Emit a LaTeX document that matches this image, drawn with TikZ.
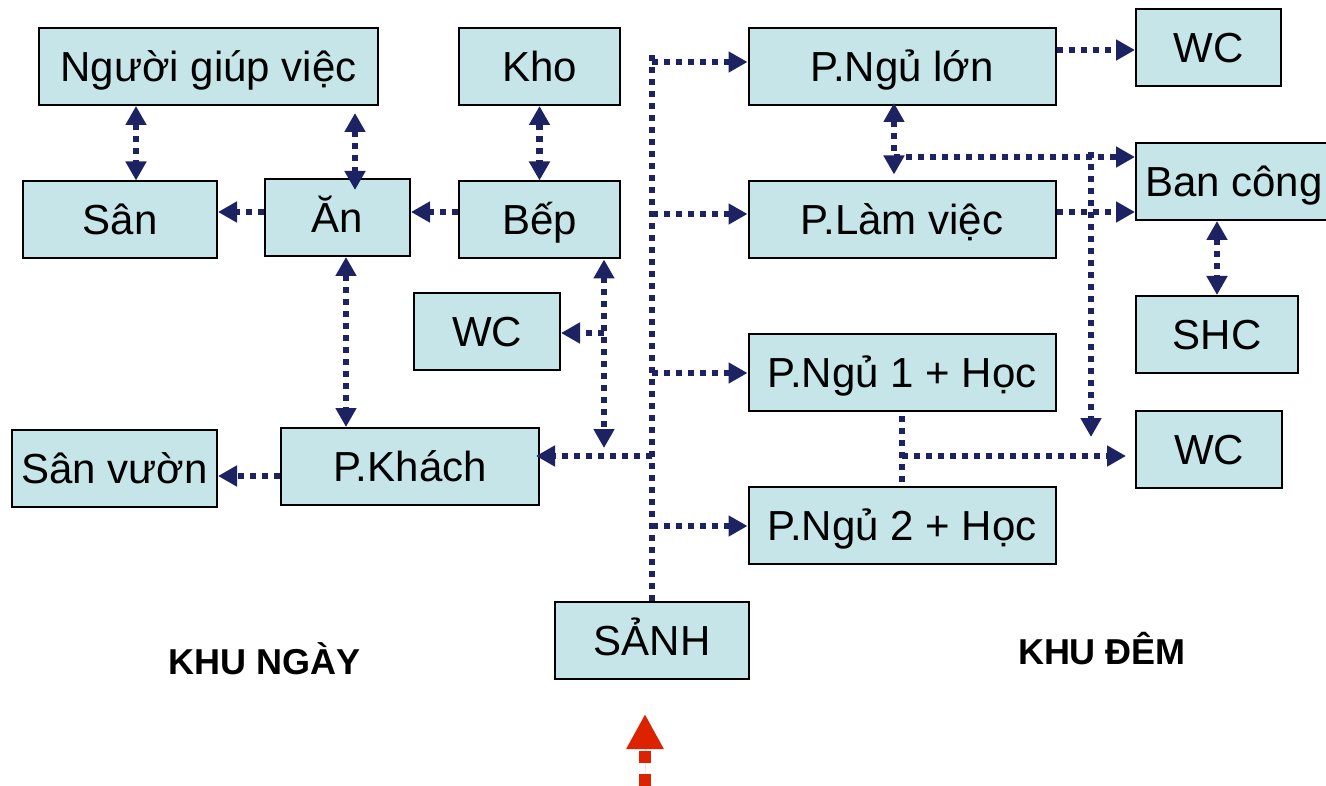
\documentclass[tikz,border=0pt]{standalone}
\usepackage{fontspec}
\setmainfont{Liberation Sans}
\usetikzlibrary{arrows.meta,calc}
\definecolor{boxfill}{RGB}{197,229,232}
\definecolor{navy}{RGB}{28,34,98}
\definecolor{redarrow}{RGB}{221,34,0}
\tikzset{tri/.tip={Triangle[length=19pt,width=20pt]}}
\begin{document}
\begin{tikzpicture}[x=1pt,y=-1pt,
  room/.style={draw=black, line width=2pt, fill=boxfill, minimum height=77pt,
    inner sep=0pt, text height=30pt, text depth=0pt, font=\fontsize{42}{48}\selectfont},
  conn/.style={draw=navy, line width=6.5pt, dash pattern=on 6pt off 6pt},
  lbl/.style={inner sep=0pt, text height=26pt, text depth=0pt, font=\fontsize{36}{40}\selectfont\bfseries}]
\useasboundingbox (0,0) rectangle (1326,786);

% rooms
\node[room, minimum width=339pt] (ngv) at (208.5,66.5) {Người giúp việc};
\node[room, minimum width=161pt] (kho) at (539.5,66.5) {Kho};
\node[room, minimum width=194pt] (san) at (120,220) {Sân};
\node[room, minimum width=145pt] (an) at (337.5,217.5) {Ăn};
\node[room, minimum width=161pt] (bep) at (539.5,220) {Bếp};
\node[room, minimum width=146pt] (wcl) at (487,331.5) {WC};
\node[room, minimum width=205pt] (sanvuon) at (114.5,468.5) {Sân vườn};
\node[room, minimum width=258pt] (pkhach) at (410,466.5) {P.Khách};
\node[room, minimum width=194pt] (sanh) at (652,640.5) {SẢNH};
\node[room, minimum width=307pt] (pnl) at (902,66.5) {P.Ngủ lớn};
\node[room, minimum width=145pt] (wc1) at (1208.5,47.5) {WC};
\node[room, minimum width=196pt] (bancong) at (1234,181.5) {Ban công};
\node[room, minimum width=307pt] (plv) at (902,220) {P.Làm việc};
\node[room, minimum width=162pt] (shc) at (1217,334.5) {SHC};
\node[room, minimum width=307pt] (pn1) at (902,372.5) {P.Ngủ 1 + Học};
\node[room, minimum width=146pt] (wc2) at (1209,449.5) {WC};
\node[room, minimum width=307pt] (pn2) at (902,525.5) {P.Ngủ 2 + Học};

% labels
\node[lbl] (khungay) at (265,661) {KHU NGÀY};
\node[lbl] (khudem) at (1102,651) {KHU ĐÊM};

% track coordinates
\coordinate (tA) at (136,0);
\coordinate (tB) at (355,0);
\coordinate (tD) at (0,212);
\coordinate (tF) at (346,0);
\coordinate (tI) at (0,476);
\coordinate (tP) at (0,50);
\coordinate (tQ) at (894,0);
\coordinate (tS) at (0,212);
\coordinate (tU) at (1217,0);
\coordinate (mtop) at (652,55);
\coordinate (j1) at (652,62);
\coordinate (j2) at (652,214);
\coordinate (j3) at (652,373);
\coordinate (j4) at (652,456);
\coordinate (j5) at (652,526);
\coordinate (k1) at (604,448);
\coordinate (k2) at (604,333);
\coordinate (m1) at (894,157);
\coordinate (m2) at (1091,152);
\coordinate (m3) at (1091,437);
\coordinate (m4) at (902,456);
\coordinate (r0) at (645,786);
\coordinate (r1) at (645,714);

% left side connectors
\draw[conn, tri-tri] (ngv.south -| tA) -- (san.north -| tA);
\draw[conn, tri-tri, shorten <=7pt, shorten >=-12pt] (ngv.south -| tB) -- (an.north -| tB);
\draw[conn, tri-tri] (kho.south) -- (bep.north);
\draw[conn, -tri] (an.west |- tD) -- (san.east |- tD);
\draw[conn, -tri] (bep.west |- tD) -- (an.east |- tD);
\draw[conn, tri-tri] (an.south -| tF) -- (pkhach.north -| tF);
\draw[conn, tri-tri] (bep.south -| k1) -- (k1);
\draw[conn, -tri] (k2) -- (wcl.east |- k2);
\draw[conn, -tri] (pkhach.west |- tI) -- (sanvuon.east |- tI);

% main spine
\draw[conn] (sanh.north) -- (mtop);
\draw[conn, -tri] (j1) -- (pnl.west |- j1);
\draw[conn, -tri] (j2) -- (plv.west |- j2);
\draw[conn, -tri] (j3) -- (pn1.west |- j3);
\draw[conn, -tri, shorten >=-4pt] (j4) -- (pkhach.east |- j4);
\draw[conn, -tri] (j5) -- (pn2.west |- j5);

% right side connectors
\draw[conn, -tri] (pnl.east |- tP) -- (wc1.west |- tP);
\draw[conn, tri-tri, shorten <=-3pt, shorten >=6pt] (pnl.south -| tQ) -- (plv.north -| tQ);
\draw[conn, -tri] (m1) -- (bancong.west |- m1);
\draw[conn, -tri] (plv.east |- tS) -- (bancong.west |- tS);
\draw[conn, -tri] (m2) -- (m3);
\draw[conn, tri-tri] (bancong.south -| tU) -- (shc.north -| tU);
\draw[conn, shorten <=4pt] (pn1.south) -- (pn2.north);
\draw[conn, -tri, shorten >=9pt] (m4) -- (wc2.west |- m4);

% entrance arrow
\draw[draw=redarrow, fill=redarrow, line width=12pt, dash pattern=on 12pt off 11pt,
  -{Triangle[length=35pt,width=35pt]}] (r0) -- (r1);
\end{tikzpicture}
\end{document}
